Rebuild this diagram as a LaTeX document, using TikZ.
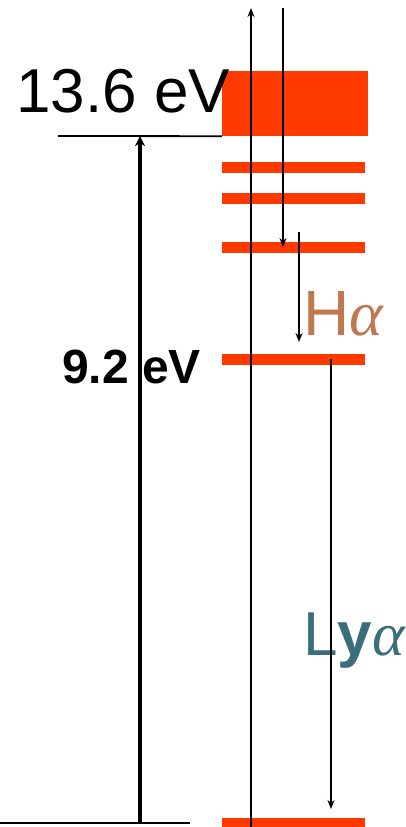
\documentclass[tikz,border=0pt]{standalone}
\usepackage{fontspec}
\setmainfont{Liberation Sans}
\newfontfamily\greekserif{Liberation Serif}
\usetikzlibrary{arrows.meta}
\definecolor{levelred}{HTML}{FF3A00}
\definecolor{hacol}{HTML}{C07850}
\definecolor{lyacol}{HTML}{3A6E7A}
\tikzset{
  levelbar/.style={fill=levelred, draw=none, inner sep=0pt, minimum width=143pt, minimum height=11pt},
  thinline/.style={draw=black, line width=1.8pt},
  thickline/.style={draw=black, line width=3.8pt},
  tip/.style={-{Stealth[length=9pt,width=7pt]}},
  bigtip/.style={-{Stealth[length=10pt,width=10pt]}},
  lbl/.style={inner sep=0pt, anchor=base west}
}
\begin{document}
\begin{tikzpicture}[x=1pt,y=-1pt]
\useasboundingbox (0,0) rectangle (405,827);
% continuum block
\node[fill=levelred, inner sep=0pt, minimum width=146pt, minimum height=65pt] (block) at (295,103.5) {};
% levels
\node[levelbar] (L1) at (293.5,167) {};
\node[levelbar] (L2) at (293.5,198) {};
\node[levelbar] (L3) at (293.5,247) {};
\node[levelbar] (L4) at (293.5,359) {};
\node[levelbar, minimum height=9pt] (L0) at (293.5,822.5) {};
% labels
\node[lbl, font=\fontsize{62}{62}\selectfont] (ion) at (16,112) {13.6 eV};
\node[lbl, font=\bfseries\fontsize{48}{48}\selectfont] (nine) at (62,383) {9.2 eV};
\node[lbl, text=hacol, font=\fontsize{64}{64}\selectfont] (ha) at (303,335) {H{\greekserif\itshape α}};
\node[lbl, text=lyacol, font=\fontsize{62}{62}\selectfont] (lya) at (303,655) {L\textbf{y}{\greekserif\itshape α}};
% coordinates
\coordinate (tl0) at (58,136);
\coordinate (bl0) at (0,823);
\coordinate (bl1) at (190,823);
\coordinate (ax) at (140,823);
\coordinate (v1b) at (251,827);
\coordinate (v1t) at (251,8);
\coordinate (v2t) at (283,8);
\coordinate (hat) at (299,232);
\coordinate (hab) at (299,342);
\coordinate (lyt) at (331,359);
\coordinate (lyb) at (331,809);
% lines
\draw[thinline] (tl0) -- (block.south west);
\draw[thinline] (bl0) -- (bl1);
\draw[thickline, bigtip] (ax) -- (ax |- block.south);
\draw[thinline, tip] (v1b) -- (v1t);
\draw[thinline, tip] (v2t) -- (v2t |- L3.center);
\draw[thinline, tip] (hat) -- (hab);
\draw[thinline, tip] (lyt) -- (lyb);
\end{tikzpicture}
\end{document}
